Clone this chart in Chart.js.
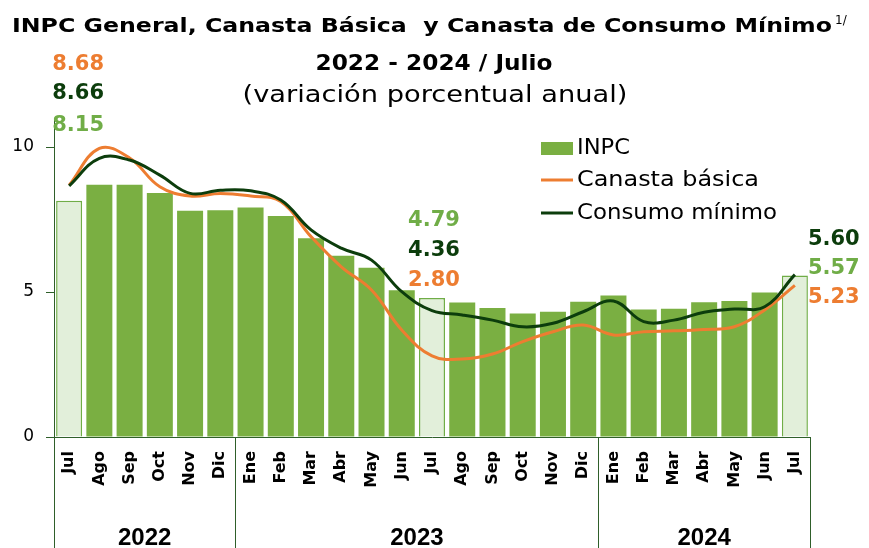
<!DOCTYPE html>
<html lang="es">
<head>
<meta charset="utf-8">
<script src="https://cdn.jsdelivr.net/npm/chart.js@4.4.1/dist/chart.umd.min.js"></script>
<style>
    body { margin: 0; background: #ffffff; }
</style>
</head>
<body>
<canvas id="inpcChart" width="869" height="548"></canvas>
<script>
// Datos: variación porcentual anual, julio 2022 - julio 2024
const meses = ['Jul', 'Ago', 'Sep', 'Oct', 'Nov', 'Dic',
    'Ene', 'Feb', 'Mar', 'Abr', 'May', 'Jun', 'Jul', 'Ago', 'Sep', 'Oct', 'Nov', 'Dic',
    'Ene', 'Feb', 'Mar', 'Abr', 'May', 'Jun', 'Jul'];
const anios = ['2022', '2023', '2024'];
const mesesPorAnio = [6, 12, 7];
const inpc = [8.15, 8.70, 8.70, 8.41, 7.80, 7.82, 7.91, 7.62, 6.85, 6.25, 5.84, 5.06, 4.79,
    4.64, 4.45, 4.26, 4.32, 4.66, 4.88, 4.40, 4.42, 4.65, 4.69, 4.98, 5.57];
const canastaBasica = [8.68, 9.95, 9.62, 8.63, 8.31, 8.40, 8.31, 8.12, 6.91, 5.87, 5.07, 3.69, 2.80,
    2.69, 2.86, 3.29, 3.63, 3.86, 3.52, 3.63, 3.66, 3.71, 3.80, 4.38, 5.23];
const consumoMinimo = [8.66, 9.61, 9.55, 9.03, 8.40, 8.51, 8.49, 8.17, 7.14, 6.51, 6.10, 5.01, 4.36,
    4.21, 4.03, 3.80, 3.92, 4.32, 4.69, 3.98, 4.03, 4.30, 4.41, 4.49, 5.60];
const ticksY = [0, 5, 10];
const mesesJulio = [0, 12, 24]; // barras resaltadas

const verde = '#7aaf42';
const verdeClaro = '#e2efda';
const verdeBorde = '#70ad47';
const naranja = '#ed7d31';
const verdeOscuro = '#0c3d0c';
const colorEje = '#2f5f2a';
const fuente = 'DejaVu Sans';

// Dibuja texto estirado/comprimido a un ancho dado
function textoAjustado(ctx, txt, x, y, ancho, align) {
    const w = ctx.measureText(txt).width;
    ctx.save();
    ctx.translate(x, y);
    ctx.scale(ancho / w, 1);
    ctx.textAlign = align;
    ctx.fillText(txt, 0, 0);
    ctx.restore();
}

// Títulos, leyenda, etiquetas y años
const extras = {
    id: 'extras',
    afterDraw(chart) {
        const ctx = chart.ctx;
        const xs = chart.scales.x;
        const area = chart.chartArea;
        ctx.save();
        ctx.fillStyle = '#000';
        ctx.textBaseline = 'alphabetic';

        // titulo
        ctx.font = 'bold 20px "' + fuente + '"';
        textoAjustado(ctx, 'INPC General, Canasta Básica  y Canasta de Consumo Mínimo', 12, 32, 820, 'left');
        ctx.font = '12px "' + fuente + '"';
        ctx.fillText('1/', 835, 24);
        ctx.font = 'bold 21px "' + fuente + '"';
        textoAjustado(ctx, '2022 - 2024 / Julio', 434, 70, 237, 'center');
        ctx.font = '23px "' + fuente + '"';
        textoAjustado(ctx, '(variación porcentual anual)', 435, 102, 385, 'center');

        // leyenda
        ctx.fillStyle = verde;
        ctx.fillRect(541, 142, 32, 13);
        ctx.lineWidth = 3;
        ctx.strokeStyle = naranja;
        ctx.beginPath(); ctx.moveTo(541, 180); ctx.lineTo(573, 180); ctx.stroke();
        ctx.strokeStyle = verdeOscuro;
        ctx.beginPath(); ctx.moveTo(541, 213); ctx.lineTo(573, 213); ctx.stroke();
        ctx.fillStyle = '#000';
        ctx.textBaseline = 'middle';
        ctx.font = '21px "' + fuente + '"';
        textoAjustado(ctx, 'INPC', 577, 149, 53, 'left');
        textoAjustado(ctx, 'Canasta básica', 577, 181, 182, 'left');
        textoAjustado(ctx, 'Consumo mínimo', 577, 214, 200, 'left');

        // etiquetas de datos en los meses de julio
        ctx.font = 'bold 21px "' + fuente + '"';
        const series = [[canastaBasica, naranja], [consumoMinimo, verdeOscuro], [inpc, '#70ad47']];
        const grupos = [
            { i: 0, dx: 9, align: 'center', ys: [65, 94, 126] },
            { i: 12, dx: 2, align: 'center', ys: [281, 251, 221] },
            { i: 24, dx: 13, align: 'left', ys: [298, 240, 269] }
        ];
        grupos.forEach(g => {
            const x = xs.getPixelForValue(g.i) + g.dx;
            ctx.textAlign = g.align;
            series.forEach((s, k) => {
                ctx.fillStyle = s[1];
                ctx.fillText(s[0][g.i].toFixed(2), x, g.ys[k]);
            });
        });

        // separadores de año y etiquetas
        ctx.strokeStyle = colorEje;
        ctx.lineWidth = 1;
        ctx.fillStyle = '#000';
        ctx.textAlign = 'center';
        ctx.textBaseline = 'alphabetic';
        ctx.font = 'bold 24px "Liberation Sans"';
        let inicio = 0;
        const anchoCat = (area.right - area.left) / meses.length;
        const bordes = [area.left];
        mesesPorAnio.forEach((n, k) => {
            const x0 = xs.getPixelForValue(inicio) - anchoCat / 2;
            const x1 = xs.getPixelForValue(inicio + n - 1) + anchoCat / 2;
            bordes.push(x1);
            ctx.fillText(anios[k], (x0 + x1) / 2, 545);
            inicio += n;
        });
        bordes.forEach(b => {
            const xb = Math.round(b) + 0.5;
            ctx.beginPath();
            ctx.moveTo(xb, area.bottom);
            ctx.lineTo(xb, 548);
            ctx.stroke();
        });
        ctx.restore();
    }
};

const ctxInpc = document.getElementById('inpcChart').getContext('2d');
const inpcChart = new Chart(ctxInpc, {
    type: 'bar',
    data: {
        labels: meses,
        datasets: [{
            type: 'bar',
            label: 'INPC',
            data: inpc,
            order: 2,
            backgroundColor: c => mesesJulio.includes(c.dataIndex) ? verdeClaro : verde,
            borderColor: c => mesesJulio.includes(c.dataIndex) ? verdeBorde : verde,
            borderWidth: c => mesesJulio.includes(c.dataIndex) ? 1.5 : 0,
            borderSkipped: 'bottom',
            barPercentage: 0.86,
            categoryPercentage: 1.0
        }, {
            type: 'line',
            label: 'Canasta básica',
            data: canastaBasica,
            order: 1,
            borderColor: naranja,
            borderWidth: 3,
            pointRadius: 0,
            tension: 0.4,
            fill: false
        }, {
            type: 'line',
            label: 'Consumo mínimo',
            data: consumoMinimo,
            order: 0,
            borderColor: verdeOscuro,
            borderWidth: 3,
            pointRadius: 0,
            tension: 0.4,
            fill: false
        }]
    },
    options: {
        responsive: false,
        animation: false,
        layout: { padding: { top: 118, right: 59, left: 0, bottom: 0 } },
        plugins: {
            legend: { display: false },
            title: { display: false },
            tooltip: { enabled: false }
        },
        scales: {
            x: {
                grid: { display: false },
                border: { color: colorEje, width: 1 },
                ticks: {
                    color: '#000',
                    font: { family: fuente, weight: 'bold', size: 16 },
                    minRotation: 90,
                    maxRotation: 90,
                    autoSkip: false,
                    padding: 6
                },
                afterFit(scale) { scale.height = 111; }
            },
            y: {
                min: 0,
                max: 11,
                afterBuildTicks(scale) { scale.ticks = ticksY.map(v => ({ value: v })); },
                grid: { drawOnChartArea: false, drawTicks: true, tickLength: 8, color: colorEje },
                border: { color: colorEje, width: 1 },
                ticks: {
                    color: '#000',
                    font: { family: fuente, size: 17 },
                    padding: 12
                },
                afterFit(scale) { scale.width = 54; }
            }
        }
    },
    plugins: [extras]
});
</script>
</body>
</html>
